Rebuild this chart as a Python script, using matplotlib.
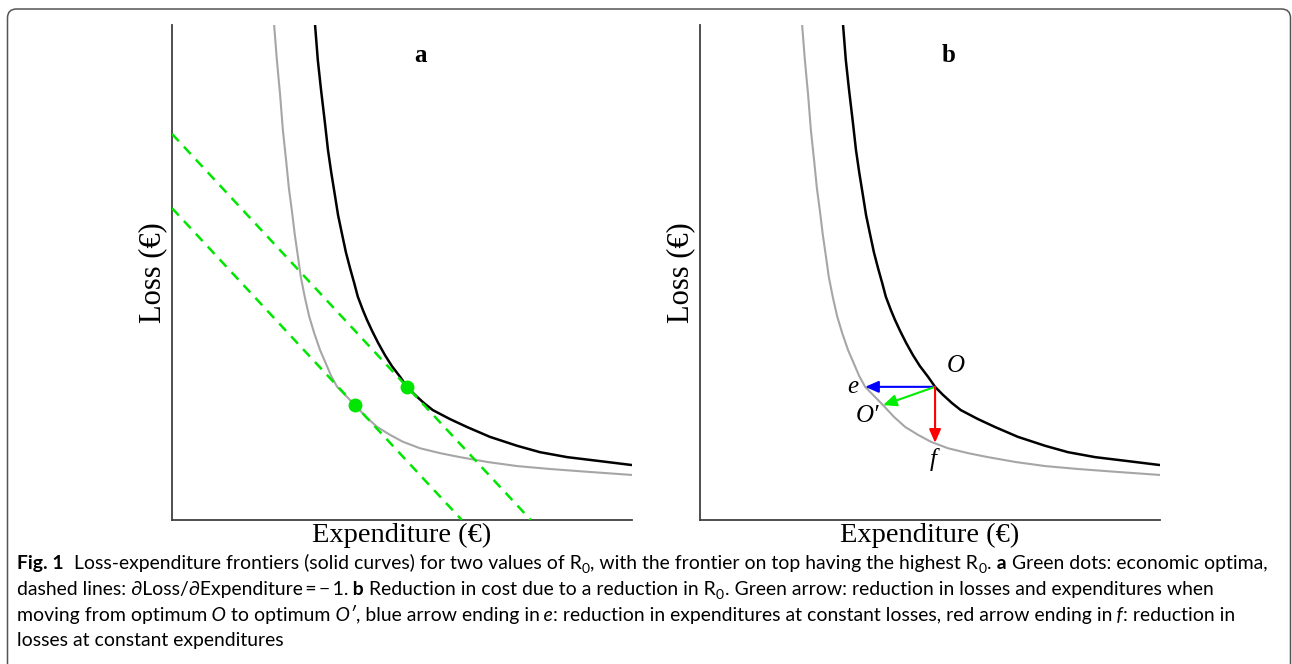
import matplotlib
matplotlib.use("Agg")
import matplotlib.pyplot as plt
from matplotlib.patches import FancyBboxPatch
from matplotlib.transforms import IdentityTransform

SERIF = "Liberation Serif"
CAPTION_FONT = ["Lato", "Noto Sans", "DejaVu Sans"]

# frontier with the higher R0 (black)
expenditure_high = [3.11, 3.17, 3.24, 3.33, 3.39, 3.46, 3.54, 3.61, 3.70, 3.78, 3.87, 3.96,
                    4.04, 4.15, 4.24, 4.35, 4.48, 4.63, 4.78, 4.96, 5.11, 5.28, 5.48, 5.67,
                    6.04, 6.41, 6.91, 7.50, 8.00, 8.59, 9.30, 10.0]
loss_high = [10.0, 9.29, 8.69, 7.98, 7.48, 7.03, 6.57, 6.16, 5.76, 5.41, 5.09, 4.79,
             4.51, 4.24, 4.04, 3.82, 3.58, 3.33, 3.11, 2.89, 2.69, 2.53, 2.36, 2.22,
             2.04, 1.88, 1.68, 1.50, 1.37, 1.27, 1.19, 1.11]
# frontier with the lower R0 (grey)
expenditure_low = [2.22, 2.28, 2.35, 2.41, 2.48, 2.54, 2.61, 2.67, 2.74, 2.80, 2.89, 2.98,
                   3.09, 3.22, 3.35, 3.46, 3.59, 3.78, 3.98, 4.22, 4.46, 4.74, 5.02, 5.39,
                   5.83, 6.26, 6.87, 7.50, 8.22, 9.09, 10.0]
loss_low = [10.0, 9.29, 8.59, 7.88, 7.27, 6.71, 6.22, 5.76, 5.31, 4.91, 4.49, 4.12,
            3.78, 3.43, 3.15, 2.91, 2.69, 2.51, 2.32, 2.08, 1.88, 1.72, 1.58, 1.45,
            1.35, 1.27, 1.17, 1.09, 1.03, 0.97, 0.91]

# economic optima (green dots): O on the high frontier, O' on the low one
opt_expenditure = [5.11, 3.98]
opt_loss = [2.69, 2.32]
# ends of the blue (e) and red (f) arrows on the low frontier
point_e = (3.59, 2.69)
point_f = (5.11, 1.56)

GREEN = "#00e600"

fig = plt.figure(figsize=(12.92, 6.64), dpi=100)

# rounded frame around figure + caption
frame = FancyBboxPatch((7.5, -30), 1283, 685, boxstyle="round,pad=0,rounding_size=9",
                       transform=IdentityTransform(), facecolor="none",
                       edgecolor="#555555", lw=1.1)
fig.add_artist(frame)

ax_a = fig.add_axes([172 / 1292, 144 / 664, 460 / 1292, 495 / 664])
ax_b = fig.add_axes([700 / 1292, 144 / 664, 460 / 1292, 495 / 664])

for ax, letter in [(ax_a, "a"), (ax_b, "b")]:
    ax.plot(expenditure_low, loss_low, color="#a6a6a6", lw=1.5,
            solid_joinstyle="round", solid_capstyle="butt")
    ax.plot(expenditure_high, loss_high, color="black", lw=1.8,
            solid_joinstyle="round", solid_capstyle="butt")
    ax.set_xlim(0, 10)
    ax.set_ylim(0, 10)
    ax.set_xticks([])
    ax.set_yticks([])
    for side in ["top", "right"]:
        ax.spines[side].set_visible(False)
    for side in ["left", "bottom"]:
        ax.spines[side].set_color("#404040")
        ax.spines[side].set_linewidth(1.3)
    ax.set_xlabel("Expenditure (€)", family=SERIF, fontsize=20.5, labelpad=2)
    ax.set_ylabel("Loss (€)", family=SERIF, fontsize=22, labelpad=3.5)
    ax.text(0.541, 0.939, letter, transform=ax.transAxes, family=SERIF,
            fontsize=18, fontweight="bold", ha="center", va="center")

# panel a: tangents with slope -1 and the optima
for x0, y0 in zip(opt_expenditure, opt_loss):
    ax_a.axline((x0, y0), slope=-1, color=GREEN, lw=1.8, linestyle=(0, (4, 3)), zorder=3)
ax_a.plot(opt_expenditure, opt_loss, "o", color=GREEN, ms=9, zorder=4)

# panel b: arrows from O
O = (opt_expenditure[0], opt_loss[0])
O2 = (opt_expenditure[1], opt_loss[1])
for target, col in [(point_e, "#0000ff"), (O2, "#00ee00"), (point_f, "#ff0000")]:
    ax_b.annotate("", xy=target, xytext=O,
                  arrowprops=dict(arrowstyle="-|>,head_length=0.8,head_width=0.35",
                                  color=col, lw=1.5, mutation_scale=10,
                                  shrinkA=0, shrinkB=0), zorder=5)

lab = dict(family=SERIF, fontsize=18, fontstyle="italic", ha="center", va="center",
           textcoords="offset points")
ax_b.annotate("O", xy=O, xytext=(15, 15), **lab)
ax_b.annotate("e", xy=point_e, xytext=(-9, 0), **lab)
ax_b.annotate("O\u2032", xy=O2, xytext=(-11, -8), **lab)
ax_b.annotate("f", xy=point_f, xytext=(-1, -12), **lab)

# caption, as runs: "" normal, "b" bold, "i" italic, "s" subscript
caption = [
    [("Fig. 1", "b"), ("  Loss-expenditure frontiers (solid curves) for two values of R", ""), ("0", "s"),
     (", with the frontier on top having the highest R", ""), ("0", "s"), (".", ""),
     (" a", "b"), (" Green dots: economic optima,", "")],
    [("dashed lines: \u2202Loss/\u2202Expenditure\u2009=\u2009\u2212\u20091.", ""), (" b", "b"),
     (" Reduction in cost due to a reduction in R", ""), ("0", "s"),
     (". Green arrow: reduction in losses and expenditures when", "")],
    [("moving from optimum", ""), (" O", "i"), (" to optimum", ""), (" O\u2032", "i"),
     (", blue arrow ending in", ""), (" e", "i"),
     (": reduction in expenditures at constant losses, red arrow ending in", ""), (" f", "i"), (": reduction in", "")],
    [("losses at constant expenditures", "")],
]
baselines = [569, 595, 621, 646]

renderer = fig.canvas.get_renderer()


def make_run(x, y, text, style, size):
    if "s" in style:
        size, y = size * 0.72, y - 4
    return fig.text(x, y, text, transform=IdentityTransform(), fontsize=size,
                    family=CAPTION_FONT, va="baseline", ha="left",
                    fontweight="bold" if "b" in style else "normal",
                    fontstyle="italic" if "i" in style else "normal")


def draw_line(runs, y, size):
    x = 17
    for text, style in runs:
        t = make_run(x, y, text, style, size)
        x += t.get_window_extent(renderer).width + (1 if "s" in style else 0)
    return x


size = 14
# fit first line to the width of the reference caption
tmp = [make_run(0, -100, s, st, size) for s, st in caption[0]]
w = sum(t.get_window_extent(renderer).width for t in tmp)
for t in tmp:
    t.remove()
size = size * 1251 / w

for runs, yb in zip(caption, baselines):
    draw_line(runs, 664 - yb, size)

fig.savefig("out.png", dpi=100)
